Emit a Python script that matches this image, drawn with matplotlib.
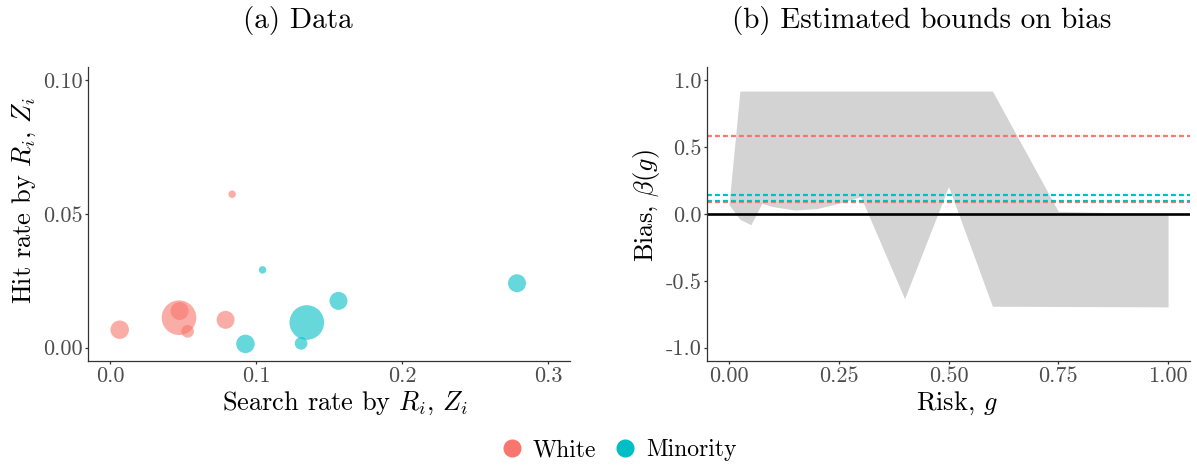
import numpy as np
import matplotlib
matplotlib.use("Agg")
import matplotlib.pyplot as plt
from matplotlib.lines import Line2D

plt.rcParams['font.family'] = 'serif'
plt.rcParams['font.serif'] = ['cmr10']
plt.rcParams['mathtext.fontset'] = 'cm'
plt.rcParams['axes.formatter.use_mathtext'] = True

# panel (a): search rate / hit rate by group, bubble size = number of stops
white_search = [0.0067, 0.0473, 0.0477, 0.0532, 0.0792, 0.0837]
white_hit = [0.0067, 0.0112, 0.0137, 0.0061, 0.0104, 0.0574]
white_n = [86, 300, 81, 40, 81, 14]

minority_search = [0.0928, 0.1348, 0.1309, 0.1565, 0.1045, 0.2787]
minority_hit = [0.0014, 0.0094, 0.0016, 0.0175, 0.0291, 0.0241]
minority_n = [86, 300, 40, 81, 14, 81]

# panel (b): bounds on bias over risk
risk = [0.0, 0.025, 0.05, 0.075, 0.1, 0.15, 0.2, 0.25, 0.3, 0.4, 0.5, 0.6, 0.75, 1.0]
bias_upper = [0.07, 0.92, 0.92, 0.92, 0.92, 0.92, 0.92, 0.92, 0.92, 0.92, 0.92, 0.92, 0.02, 0.0]
bias_lower = [0.07, -0.04, -0.08, 0.08, 0.055, 0.03, 0.04, 0.08, 0.13, -0.634, 0.206, -0.69, -0.692, -0.695]

white_bias = [0.584, 0.087]
minority_bias = [0.139, 0.094]

RED = '#F8766D'
CYAN = '#00BFC4'
TICK_COL = '#4D4D4D'
AX_COL = '#333333'

W, H = 1197, 466
fig = plt.figure(figsize=(W / 100, H / 100), dpi=100)

ax1 = fig.add_axes([88 / W, 1 - 361 / H, 482 / W, 294 / H])
ax2 = fig.add_axes([707 / W, 1 - 361 / H, 483 / W, 294 / H])

def style(ax):
    for s in ['top', 'right']:
        ax.spines[s].set_visible(False)
    for s in ['left', 'bottom']:
        ax.spines[s].set_color(AX_COL)
        ax.spines[s].set_linewidth(0.9)
    ax.tick_params(colors=AX_COL, width=0.9, length=2.5, labelsize=16,
                   labelcolor=TICK_COL, pad=1.5)

# (a) Data
k = 2.07
ax1.scatter(white_search, white_hit, s=np.array(white_n) * k, color=RED,
            alpha=0.6, edgecolors='none')
ax1.scatter(minority_search, minority_hit, s=np.array(minority_n) * k, color=CYAN,
            alpha=0.6, edgecolors='none')
ax1.set_xlim(-0.015, 0.315)
ax1.set_ylim(-0.005, 0.105)
ax1.set_xticks([0, 0.1, 0.2, 0.3])
ax1.set_xticklabels(['0.0', '0.1', '0.2', '0.3'])
ax1.set_yticks([0, 0.05, 0.1])
ax1.set_yticklabels(['0.00', '0.05', '0.10'])
style(ax1)

# (b) Estimated bounds on bias
ax2.fill_between(risk, bias_lower, bias_upper, color='#D3D3D3', linewidth=0)
for v in white_bias:
    ax2.axhline(v, color=RED, lw=1.6, linestyle=(0, (2.2, 1.4)))
for v in minority_bias:
    ax2.axhline(v, color=CYAN, lw=1.6, linestyle=(0, (2.2, 1.4)))
ax2.axhline(0, color='black', lw=1.9)
ax2.set_xlim(-0.05, 1.05)
ax2.set_ylim(-1.1, 1.1)
ax2.set_xticks([0, 0.25, 0.5, 0.75, 1.0])
ax2.set_xticklabels(['0.00', '0.25', '0.50', '0.75', '1.00'])
ax2.set_yticks([-1, -0.5, 0, 0.5, 1])
ax2.set_yticklabels(['-1.0', '-0.5', '0.0', '0.5', '1.0'])
style(ax2)

# titles and axis labels
fig.text(298 / W, 1 - 28 / H, '(a) Data', fontsize=21, ha='center', va='baseline')
fig.text(922 / W, 1 - 28 / H, '(b) Estimated bounds on bias', fontsize=21,
         ha='center', va='baseline')
fig.text(345 / W, 1 - 410 / H, r'Search rate by $R_i$, $Z_i$', fontsize=19,
         ha='center', va='baseline')
fig.text(24 / W, 1 - 200 / H, r'Hit rate by $R_i$, $Z_i$', fontsize=19,
         ha='center', va='center', rotation=90)
fig.text(957 / W, 1 - 410 / H, r'Risk, $g$', fontsize=19, ha='center', va='baseline')
fig.text(647 / W, 1 - 205 / H, r'Bias, $\beta(g)$', fontsize=19,
         ha='center', va='center', rotation=90)

handles = [Line2D([], [], marker='o', ls='none', color=RED, markersize=12),
           Line2D([], [], marker='o', ls='none', color=CYAN, markersize=12)]
fig.legend(handles, ['White', 'Minority'], loc='center', ncol=2, frameon=False,
           bbox_to_anchor=(617 / W, 1 - 450 / H), fontsize=17,
           handletextpad=0.3, columnspacing=0.6, handlelength=1.2)

fig.savefig('out.png', dpi=100)
